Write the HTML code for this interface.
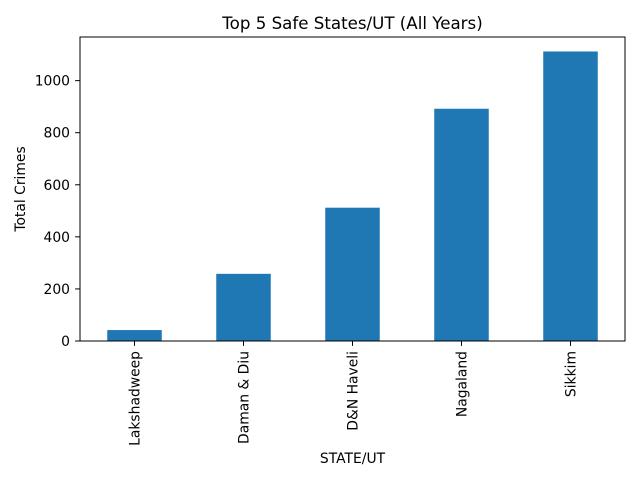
<!DOCTYPE html>
<html>
<head>
<meta charset="utf-8">
<style>
  body { margin: 0; background: #fff; }
  svg { display: block; font-family: "DejaVu Sans", "Liberation Sans", sans-serif; }
</style>
</head>
<body>
<svg id="chart" width="640" height="480" viewBox="0 0 640 480">
  <rect width="640" height="480" fill="#fff"/>
  <text x="352.5" y="29" text-anchor="middle" font-size="16.67" fill="#000">Top 5 Safe States/UT (All Years)</text>
  <g id="bars"></g>
  <g id="yticks"></g>
  <g id="xticks"></g>
  <rect x="80" y="37" width="545" height="304" fill="none" stroke="#000" stroke-width="1"/>
  <text x="352.5" y="463" text-anchor="middle" font-size="13.89">STATE/UT</text>
  <text transform="translate(25,189) rotate(-90)" text-anchor="middle" font-size="13.89">Total Crimes</text>
</svg>
<script>
const categories = ["Lakshadweep", "Daman & Diu", "D&N Haveli", "Nagaland", "Sikkim"];
const values = [42, 258, 512, 892, 1112];
const yTicks = [0, 200, 400, 600, 800, 1000];

const NS = "http://www.w3.org/2000/svg";
const plotLeft = 80, plotRight = 625, plotTop = 37, plotBottom = 341;
const yMax = Math.max(...values) * 1.05;
const yScale = v => plotBottom - v / yMax * (plotBottom - plotTop);
const band = (plotRight - plotLeft) / categories.length;
const xc = i => plotLeft + band * (i + 0.5);

const bars = document.getElementById("bars");
values.forEach((v, i) => {
  const r = document.createElementNS(NS, "rect");
  r.setAttribute("x", xc(i) - band / 4);
  r.setAttribute("width", band / 2);
  r.setAttribute("y", yScale(v));
  r.setAttribute("height", plotBottom - yScale(v));
  r.setAttribute("fill", "#1f77b4");
  
  
  bars.appendChild(r);
});

const yg = document.getElementById("yticks");
yTicks.forEach(t => {
  const l = document.createElementNS(NS, "line");
  l.setAttribute("x1", plotLeft - 4.9); l.setAttribute("x2", plotLeft);
  l.setAttribute("y1", yScale(t)); l.setAttribute("y2", yScale(t));
  l.setAttribute("stroke", "#000");
  
  
  yg.appendChild(l);
  const tx = document.createElementNS(NS, "text");
  tx.setAttribute("x", plotLeft - 10); tx.setAttribute("y", yScale(t) + 5);
  tx.setAttribute("text-anchor", "end"); tx.setAttribute("font-size", "13.89");
  tx.textContent = t;
  
  
  yg.appendChild(tx);
});

const xg = document.getElementById("xticks");
categories.forEach((c, i) => {
  const l = document.createElementNS(NS, "line");
  l.setAttribute("x1", xc(i)); l.setAttribute("x2", xc(i));
  l.setAttribute("y1", plotBottom); l.setAttribute("y2", plotBottom + 4.9);
  l.setAttribute("stroke", "#000");
  
  
  xg.appendChild(l);
  const tx = document.createElementNS(NS, "text");
  tx.setAttribute("transform", `translate(${xc(i) + 5},${plotBottom + 10}) rotate(-90)`);
  tx.setAttribute("text-anchor", "end"); tx.setAttribute("font-size", "13.89");
  tx.textContent = c;
  
  
  xg.appendChild(tx);
});
</script>
</body>
</html>
